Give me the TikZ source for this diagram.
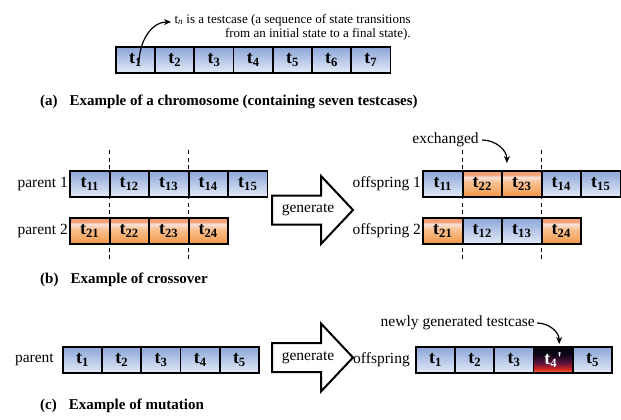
\documentclass[tikz,border=0pt]{standalone}
\usepackage{fontspec}
\setmainfont{Liberation Serif}
\usetikzlibrary{arrows.meta}

\definecolor{bluetop}{RGB}{140,166,216}
\definecolor{bluebot}{RGB}{228,235,248}
\definecolor{ortop}{RGB}{242,160,120}
\definecolor{orpink}{RGB}{252,226,220}
\definecolor{ormid}{RGB}{248,196,150}
\definecolor{orbot}{RGB}{242,150,70}
\definecolor{dkbot}{RGB}{248,120,30}
\definecolor{dkred}{RGB}{210,35,35}
\definecolor{dkpurple}{RGB}{90,18,60}
\definecolor{dktop}{RGB}{10,5,20}

\pgfdeclareverticalshading{orangecell}{100bp}{color(0bp)=(orbot); color(25bp)=(orbot); color(55bp)=(ormid); color(63bp)=(orpink); color(68bp)=(ortop); color(75bp)=(ortop); color(100bp)=(ortop)}
\pgfdeclareverticalshading{darkcell}{100bp}{color(0bp)=(dkbot); color(25bp)=(dkbot); color(33bp)=(dkred); color(45bp)=(dkpurple); color(62bp)=(dktop); color(100bp)=(dktop)}

\begin{document}
\begin{tikzpicture}[x=1pt, y=-1pt,
  cellbox/.style={draw, line width=1.8pt, minimum width=39.3pt, minimum height=26pt, inner sep=0pt, outer sep=0pt, font=\fontsize{18}{18}\selectfont\bfseries},
  bluecell/.style={cellbox, top color=bluetop, bottom color=bluebot},
  orcell/.style={cellbox, shade, shading=orangecell},
  newcell/.style={cellbox, shade, shading=darkcell, text=white},
  rowlabel/.style={anchor=east, inner sep=2pt, font=\fontsize{15.5}{17}\selectfont},
  caption/.style={anchor=west, inner sep=0pt, font=\fontsize{15}{17}\selectfont\bfseries},
  cutline/.style={line width=0.8pt, dash pattern=on 4pt off 3.5pt},
  bent/.style={-{Stealth[length=7pt,width=6pt]}, line width=1.2pt},
  genarrow/.style={draw, fill=white, line width=2pt, line join=miter}]

\useasboundingbox (0,0) rectangle (621,420);

% (a) chromosome
\foreach \i in {1,...,7}
  \node[bluecell] (c\i) at ({135.6+(\i-1)*39.2},60) {t\textsubscript{\i}};
\node[anchor=west, align=right, font=\fontsize{13}{14}\selectfont] (note) at (171,27)
  {t\textsubscript{\textit{n}} is a testcase (a sequence of state transitions\\ from an initial state to a final state).};
\coordinate (t1foot) at (139,63);
\draw[bent] (t1foot) to[out=90, in=180] ([yshift=5pt]note.west);
\node[caption] (capa) at (40,102) {(a)\hspace{0.8em}Example of a chromosome (containing seven testcases)};

% (b) crossover
\foreach \i in {1,...,5}
  \node[bluecell] (pa\i) at ({89.75+(\i-1)*39.5},184) {t\textsubscript{1\i}};
\foreach \i in {1,...,4}
  \node[orcell] (pb\i) at ({89.75+(\i-1)*39.5},231) {t\textsubscript{2\i}};
\foreach \i/\s/\lbl in {1/bluecell/11, 2/orcell/22, 3/orcell/23, 4/bluecell/14, 5/bluecell/15}
  \node[\s] (oa\i) at ({442.75+(\i-1)*39.5},184) {t\textsubscript{\lbl}};
\foreach \i/\s/\lbl in {1/orcell/21, 2/bluecell/12, 3/bluecell/13, 4/orcell/24}
  \node[\s] (ob\i) at ({442.75+(\i-1)*39.5},231) {t\textsubscript{\lbl}};

\foreach \a/\b in {pa1/pb1, pa3/pb3, oa1/ob1, oa3/ob3}
  \draw[cutline] ([yshift=21pt]\a.north east) -- ([yshift=-18pt]\b.south east);

\node[rowlabel] (lpa) at (pa1.west) {parent 1};
\node[rowlabel] (lpb) at (pb1.west) {parent 2};
\node[rowlabel] (loa) at (oa1.west) {offspring 1};
\node[rowlabel] (lob) at (ob1.west) {offspring 2};

\node[font=\fontsize{15.5}{17}\selectfont] (xchg) at (445.5,140) {exchanged};
\draw[bent] (xchg.east) to[out=0, in=90] ([xshift=5pt,yshift=8pt]oa2.north east);
\node[caption] (capb) at (40,280) {(b)\hspace{0.8em}Example of crossover};

% generate arrows
\foreach \y/\nm in {210/genb, 357.5/genc} {
  \draw[genarrow] (272,\y-14.5) -- (321,\y-14.5) -- (321,\y-34) -- (353,\y)
    -- (321,\y+34) -- (321,\y+14.5) -- (272,\y+14.5) -- cycle;
  \node[font=\fontsize{15.5}{17}\selectfont] (\nm) at (308,\y) {generate};
}

% (c) mutation
\foreach \i in {1,...,5}
  \node[bluecell] (pc\i) at ({82.6+(\i-1)*39.2},360) {t\textsubscript{\i}};
\foreach \i/\s/\lbl in {1/bluecell/{t\textsubscript{1}}, 2/bluecell/{t\textsubscript{2}}, 3/bluecell/{t\textsubscript{3}}, 4/newcell/{t\textsubscript{4}\textquotesingle}, 5/bluecell/{t\textsubscript{5}}}
  \node[\s] (oc\i) at ({435.6+(\i-1)*39.2},360) {\lbl};

\node[rowlabel] (lpc) at ([xshift=-7pt]pc1.west) {parent};
\node[rowlabel] (loc) at ([xshift=-4pt]oc1.west) {offspring};

\node[rowlabel] (newtc) at (537,323) {newly generated testcase};
\draw[bent] (newtc.east) to[out=0, in=90] ([xshift=6pt,yshift=3pt]oc4.north);
\node[caption] (capc) at (40,406) {(c)\hspace{0.8em}Example of mutation};

\end{tikzpicture}
\end{document}
